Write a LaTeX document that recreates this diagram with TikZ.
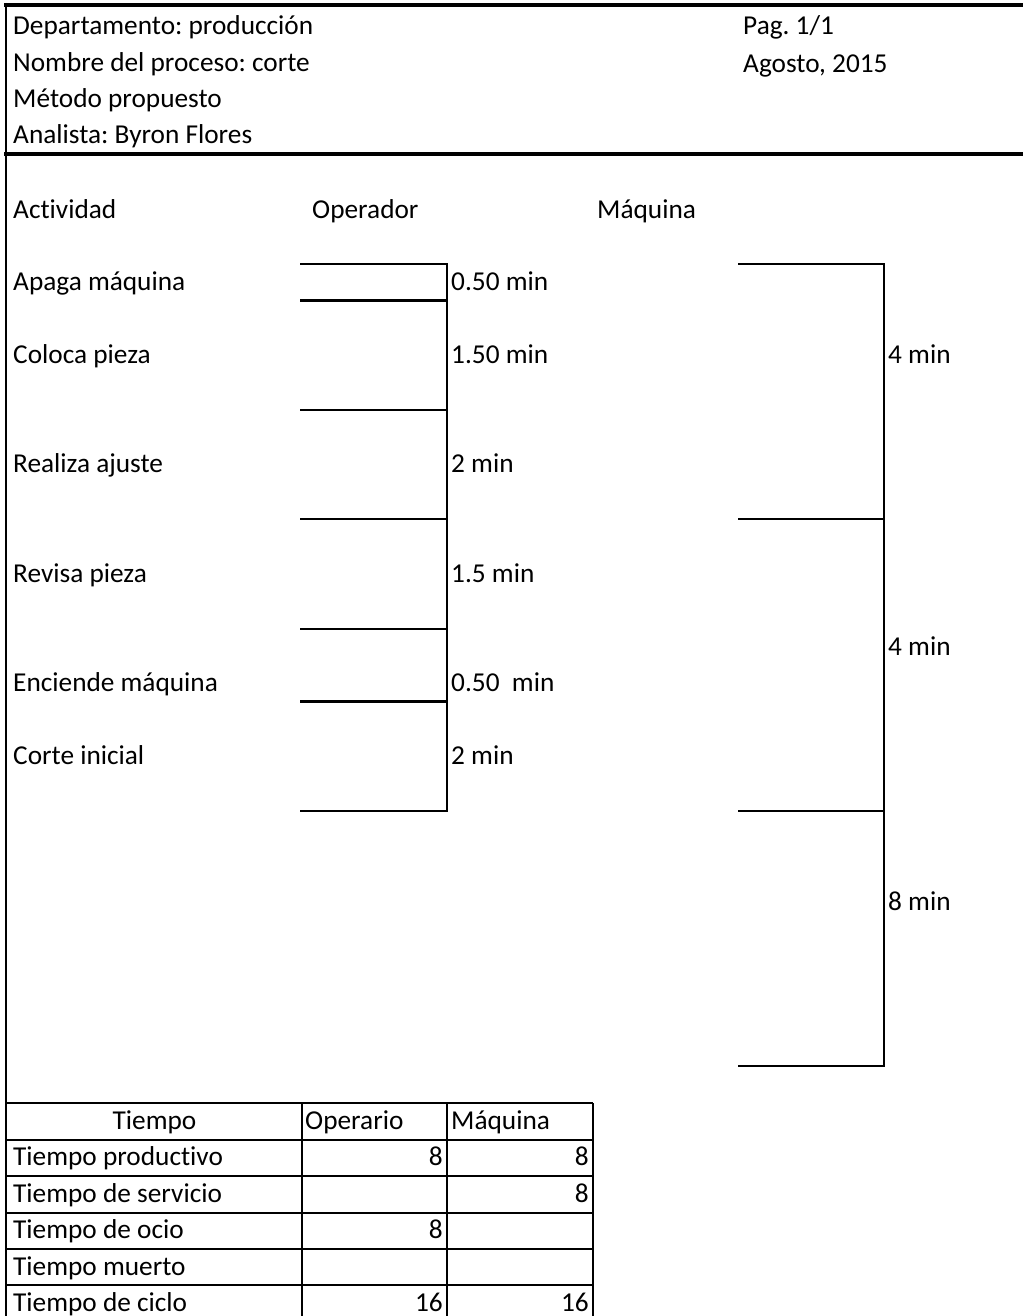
\documentclass[tikz,border=0pt]{standalone}
\usepackage{fontspec}
\setmainfont{Carlito}[Ligatures={NoCommon}]
\newcommand\myfs{\fontsize{27.3}{31}\selectfont\frenchspacing}
\begin{document}
\begin{tikzpicture}[x=1pt,y=-1pt,
  lbl/.style={anchor=base west, inner sep=0pt, font=\myfs},
  numr/.style={anchor=base east, inner sep=0pt, font=\myfs},
  ctr/.style={anchor=base, inner sep=0pt, font=\myfs},
  chart/.style={line width=2.2pt},
  heavy/.style={line width=4pt},
  border/.style={line width=2.5pt},
  grid/.style={line width=2.2pt}]
\useasboundingbox (0,0) rectangle (1023,1316);
% page frame
\draw[border] (6,3) -- (6,1316);
\draw[heavy] (4,5) -- (1023,5);
\draw[heavy] (4,154) -- (1023,154);
% header
\node[lbl] (dep) at (13,35) {Departamento: producción};
\node[lbl] (nom) at (13,72) {Nombre del proceso: corte};
\node[lbl] (met) at (13,108) {Método propuesto};
\node[lbl] (ana) at (13,144) {Analista: Byron Flores};
\node[lbl] (pag) at (743,35) {Pag. 1/1};
\node[lbl] (fec) at (743,72.5) {Agosto, 2015};
% column titles
\node[lbl] (act) at (13,218) {Actividad};
\node[lbl] (ope) at (312,218) {Operador};
\node[lbl] (maq) at (597,218) {Máquina};
% activities
\node[lbl] (a1) at (13,290.5) {Apaga máquina};
\node[lbl] (a2) at (13,363.4) {Coloca pieza};
\node[lbl] (a3) at (13,472.7) {Realiza ajuste};
\node[lbl] (a4) at (13,582) {Revisa pieza};
\node[lbl] (a5) at (13,691.5) {Enciende máquina};
\node[lbl] (a6) at (13,764.4) {Corte inicial};
% operator chart
\draw[chart] (300,264) -- (447,264) -- (447,811) -- (300,811);
\foreach \yy in {300.5,410,519,629,701.5} \draw[chart] (300,\yy) -- (447,\yy);
\node[lbl] (o1) at (451,290.5) {0.50 min};
\node[lbl] (o2) at (451,363.4) {1.50 min};
\node[lbl] (o3) at (451,472.7) {2 min};
\node[lbl] (o4) at (451,582) {1.5 min};
\node[lbl] (o5) at (451,691.5) {0.50\ \ min};
\node[lbl] (o6) at (451,764.4) {2 min};
% machine chart
\draw[chart] (738,264) -- (884,264) -- (884,1066) -- (738,1066);
\foreach \yy in {519,811} \draw[chart] (738,\yy) -- (884,\yy);
\node[lbl] (m1) at (888,363.4) {4 min};
\node[lbl] (m2) at (888,655) {4 min};
\node[lbl] (m3) at (888,910) {8 min};
% summary table
\foreach \yy in {1103,1140,1176,1213,1249,1285} \draw[grid] (6,\yy) -- (593,\yy);
\foreach \xx in {302,447,593} \draw[grid] (\xx,1103) -- (\xx,1316);
\node[ctr] (th1) at (154.5,1129) {Tiempo};
\node[lbl] (th2) at (305,1129) {Operario};
\node[lbl] (th3) at (451,1129) {Máquina};
\node[lbl] (r1) at (13,1165.5) {Tiempo productivo};
\node[lbl] (r2) at (13,1202) {Tiempo de servicio};
\node[lbl] (r3) at (13,1238.5) {Tiempo de ocio};
\node[lbl] (r4) at (13,1275) {Tiempo muerto};
\node[lbl] (r5) at (13,1311) {Tiempo de ciclo};
\node[numr] (v11) at (443,1165.5) {8};
\node[numr] (v12) at (589,1165.5) {8};
\node[numr] (v22) at (589,1202) {8};
\node[numr] (v31) at (443,1238.5) {8};
\node[numr] (v51) at (443,1311) {16};
\node[numr] (v52) at (589,1311) {16};
\end{tikzpicture}
\end{document}
